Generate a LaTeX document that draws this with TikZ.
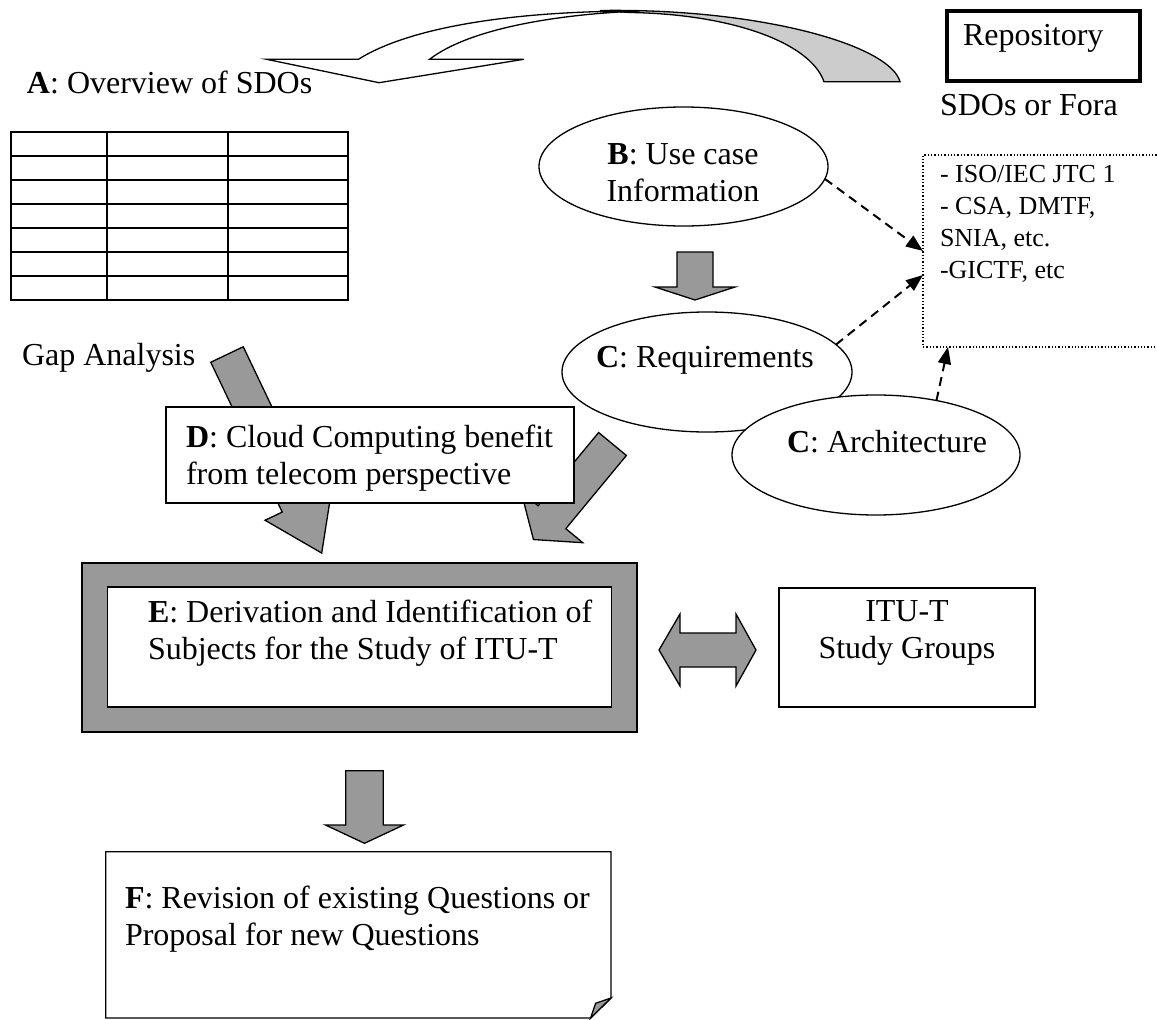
\documentclass[tikz,border=0pt]{standalone}
\usepackage{fontspec}
\setmainfont{Liberation Serif}
\usetikzlibrary{arrows.meta,shapes.geometric,positioning}

\definecolor{arrowgray}{RGB}{153,153,153}
\definecolor{backgray}{RGB}{204,204,204}

% tail, angle, length, shaft half width, head half width, head length
\newcommand{\blockarrow}[6]{%
  \draw[blockarr,shift={(#1)},rotate=#2]
    (0,-#4) -- (#3-#6,-#4) -- (#3-#6,-#5) -- (#3,0) -- (#3-#6,#5) -- (#3-#6,#4) -- (0,#4) -- cycle;}

\begin{document}
\begin{tikzpicture}[x=1pt,y=-1pt,
    txt/.style={inner sep=0pt,outer sep=0pt,font=\fontsize{32}{37}\selectfont},
    small/.style={inner sep=0pt,outer sep=0pt,font=\fontsize{26}{32}\selectfont},
    box/.style={draw,fill=white,line width=1.3pt,inner sep=0pt,outer sep=0pt,anchor=north west},
    bubble/.style={ellipse,draw,fill=white,line width=1.3pt,inner sep=0pt,outer sep=0pt},
    blockarr/.style={draw,fill=arrowgray,line width=1.3pt,line join=miter},
    link/.style={-{Triangle[length=17pt,width=13pt]},line width=2pt,dash pattern=on 9pt off 6pt}]

  \useasboundingbox (0,0) rectangle (1157,1020);

  % curved arrow back to the overview
  \draw[fill=backgray,line width=1.3pt] (600,10.5) .. controls (760,8) and (890,45) .. (900,81.7)
    -- (824,81.7) .. controls (810,42) and (730,14) .. (630,12.5) -- cycle;
  \draw[fill=white,line width=1.3pt] (266.6,59.3) -- (358.4,59.3)
    .. controls (405,30) and (500,11) .. (640,11)
    .. controls (560,14) and (470,28) .. (429.6,59.3)
    -- (523.7,59.3) -- (379,82.7) -- cycle;

  \node[box,line width=4pt,minimum width=193,minimum height=70] (repo) at (947,11) {};
  \node[txt,anchor=base west] (repolabel) at (963,45) {Repository};
  \node[txt,anchor=base west] (fora) at (940,115) {SDOs or Fora};

  % A: table of SDOs
  \node[txt,anchor=base west] (overview) at (27,93) {\textbf{A}: Overview of SDOs};
  \draw[line width=1.8pt] (11,132) rectangle (348,300);
  \foreach \y in {156,180,...,276}
    \draw[line width=1.8pt] (11,\y) -- (348,\y);
  \foreach \x in {107,228}
    \draw[line width=1.8pt] (\x,132) -- (\x,300);
  \node[txt,anchor=base west] (gap) at (22,365) {Gap Analysis};

  % SDO list
  \node[box,dotted,line width=1.3pt,minimum width=237,minimum height=192] (sdos) at (923,155) {};
  \node[small,anchor=north west,align=left] (sdolist) at (940,165)
    {- ISO/IEC JTC 1\\- CSA, DMTF,\\SNIA, etc.\\-GICTF, etc};

  % B and C
  \node[bubble,minimum width=289,minimum height=119] (usecase) at (683.5,166.5) {};
  \node[txt,anchor=north,align=center] (usecaselabel) at (683,144) {\textbf{B}: Use case\\Information};
  \blockarrow{695,252}{-90}{48}{18}{40}{13}
  \node[bubble,minimum width=290,minimum height=120] (req) at (707,372) {};
  \node[txt,anchor=base] (reqlabel) at (705,367) {\textbf{C}: Requirements};
  \node[bubble,minimum width=288,minimum height=120] (arch) at (876,455) {};
  \node[txt,anchor=base] (archlabel) at (887,452) {\textbf{C}: Architecture};

  % D
  \blockarrow{227,354.5}{-64.5}{220}{18}{37}{54}
  \blockarrow{612.5,444}{-129.6}{124}{18}{40}{29}
  \node[box,minimum width=408,minimum height=96] (benefit) at (166,407) {};
  \node[txt,anchor=north west,align=left] (benefitlabel) at (186,425)
    {\textbf{D}: Cloud Computing benefit\\from telecom perspective};

  % E
  \node[box,fill=arrowgray,minimum width=555,minimum height=169] (derive) at (82,563) {};
  \node[box,minimum width=504,minimum height=120] (derivein) at (107.6,587) {};
  \node[txt,anchor=north west,align=left] (derivelabel) at (148,600)
    {\textbf{E}: Derivation and Identification of\\Subjects for the Study of ITU-T};
  \node[box,minimum width=256,minimum height=119] (sg) at (779,588) {};
  \node[txt,anchor=north,align=center] (sglabel) at (907,601) {ITU-T\\Study Groups};
  \draw[blockarr] (659,650) -- (680,614) -- (680,633) -- (736,633) -- (736,614) -- (756,650)
    -- (736,686) -- (736,667) -- (680,667) -- (680,686) -- cycle;

  % F
  \blockarrow{364.5,770.7}{-90}{72.6}{18.75}{39}{18.3}
  \draw[fill=white,line width=1.3pt] (105.7,851.7) -- (611,851.7) -- (611,998) -- (590.6,1018) -- (105.7,1018) -- cycle;
  \draw[fill=arrowgray,line width=1.3pt] (611,998) -- (595.6,1003.3) -- (590.6,1018) -- cycle;
  \node[txt,anchor=north west,align=left] (revlabel) at (125,886)
    {\textbf{F}: Revision of existing Questions or\\Proposal for new Questions};

  \draw[link] (usecase.-5) -- (sdos.west);
  \draw[link] (req.12) -- ([yshift=-24pt]sdos.west);
  \draw[link] (arch.42) -- ([xshift=25pt]sdos.south west);

\end{tikzpicture}
\end{document}
